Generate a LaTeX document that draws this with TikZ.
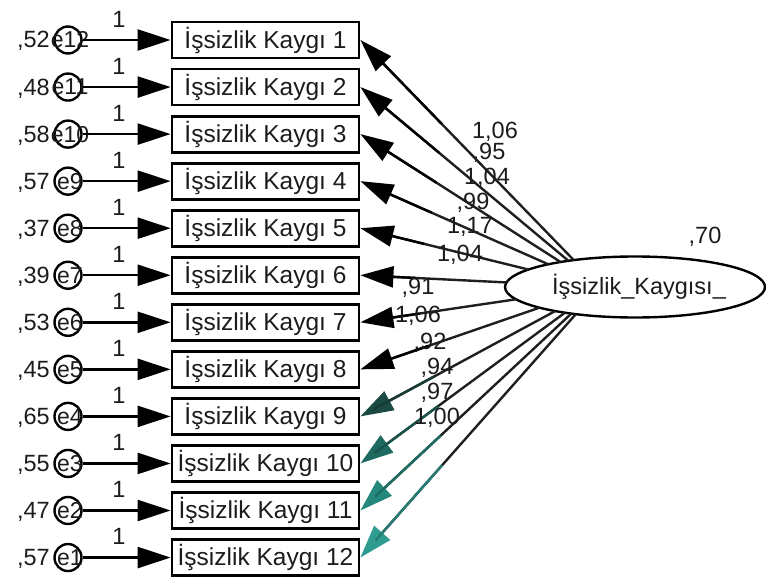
\documentclass[tikz,border=0pt]{standalone}
\usepackage{fontspec}
\setmainfont{Liberation Sans}
\usetikzlibrary{arrows.meta,shapes.geometric,calc}
\definecolor{tA}{HTML}{1B4A42}
\definecolor{tB}{HTML}{1F6A60}
\definecolor{tC}{HTML}{24887C}
\definecolor{tD}{HTML}{2E9C90}
\definecolor{txt}{HTML}{1C1C1C}
\begin{document}
\begin{tikzpicture}[x=1pt,y=-1pt,
  lbl/.style={font=\fontsize{23.5}{26}\selectfont, inner sep=0pt, text=txt},
  blbl/.style={font=\fontsize{24.5}{27}\selectfont, inner sep=0pt, text=txt},
  elbl/.style={font=\fontsize{23}{25}\selectfont, inner sep=0pt, text=txt},
  obs/.style={draw, line width=2.8pt, minimum width=187pt, minimum height=36pt, inner sep=0pt, blbl},
  errc/.style={draw, circle, line width=2.4pt, minimum size=27pt, inner sep=0pt},
  tip/.style={-{Triangle[length=33pt,width=21pt]}, line width=2.4pt},
]
\fill[white] (0,0) rectangle (766,578);
\useasboundingbox (0,0) rectangle (766,578);

\foreach \i/\v in {1/{,52},2/{,48},3/{,58},4/{,57},5/{,37},6/{,39},7/{,53},8/{,45},9/{,65},10/{,55},11/{,47},12/{,57}} {
  \pgfmathsetmacro\y{40+(\i-1)*47.05}
  \pgfmathtruncatemacro\e{13-\i}
  \node[obs] (b\i) at (265.5,\y) {İşsizlik Kaygı \i};
  \node[errc] (err\i) at (68,\y) {};
  \node[elbl] (en\i) at (70,\y) {e\e};
  \node[lbl, anchor=base east] (v\i) at (50,\y+8) {\v};
  \node[lbl] (one\i) at (119,\y-21) {1};
  \draw[tip] (err\i.east) -- (b\i.west);
}

\node[draw, ellipse, line width=2.4pt, minimum width=260pt, minimum height=61pt, inner sep=0pt] (F) at (635,287) {};
\node[lbl] (Ft) at (639,287) {İşsizlik\_Kaygısı\_};
\node[lbl] (var) at (705,237) {,70};

% start points on the ellipse border, on the line from each box toward (600,287)
\foreach \i/\c in {1/black,2/black,3/black,4/black,5/black,6/black,7/black,8/black,9/tA,10/tB,11/tC,12/tD} {
  \pgfmathsetmacro\by{40+(\i-1)*47.05}
  \pgfmathsetmacro\dx{(359-600)/130}
  \pgfmathsetmacro\dy{(\by-287)/30.5}
  \pgfmathsetmacro\qa{\dx*\dx+\dy*\dy}
  \pgfmathsetmacro\qb{-2*(35/130)*\dx}
  \pgfmathsetmacro\qc{(35/130)^2-1}
  \pgfmathsetmacro\t{(-\qb+sqrt(\qb*\qb-4*\qa*\qc))/(2*\qa)}
  \coordinate (S\i) at ({600+\t*\dx*130},{287+\t*\dy*30.5});
  \draw[line width=2.4pt, draw=black!88, -{Triangle[length=33pt,width=21pt,color=\c]}] (S\i) -- (b\i.east);
  \draw[line width=2.4pt, draw=\c!80!black] ($(S\i)!0.62!(b\i.east)$) -- ($(S\i)!0.93!(b\i.east)$);
}

\foreach \n/\t/\x/\yy in {l1/{1,06}/495/132, l2/{,95}/489/153, l3/{1,04}/487/178, l4/{,99}/473/203, l5/{1,17}/470/227, l6/{1,04}/460/255, l7/{,91}/418/288, l8/{1,06}/418/316, l9/{,92}/430/343, l10/{,94}/437/368, l11/{,97}/437/393, l12/{1,00}/437/418} {
  \node[lbl] (\n) at (\x,\yy) {\t};
}
\end{tikzpicture}
\end{document}
